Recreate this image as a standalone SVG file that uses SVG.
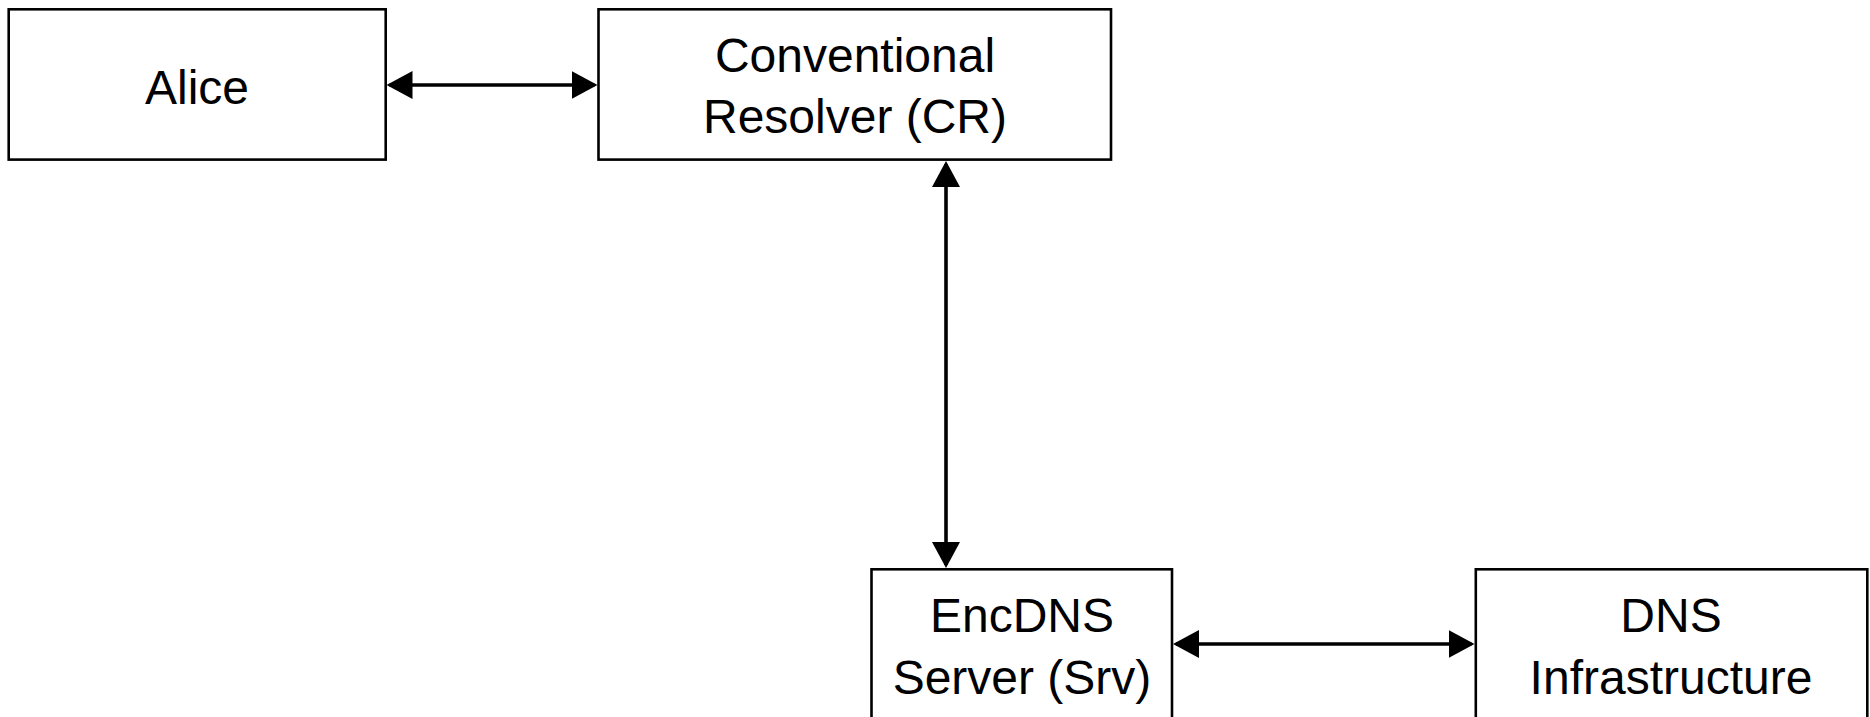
<svg xmlns="http://www.w3.org/2000/svg" width="1870" height="717" viewBox="0 0 1870 717">
  <style>
    .box { fill: #ffffff; stroke: #000000; stroke-width: 2.6; }
    .label { font-family: "Liberation Sans", Arial, sans-serif; font-size: 48px; fill: #000000; text-anchor: middle; }
    .link { stroke: #000000; stroke-width: 3.6; fill: none; marker-start: url(#head); marker-end: url(#head); }
  </style>
  <defs>
    <marker id="head" viewBox="0 0 26 28" refX="23" refY="14" markerWidth="26" markerHeight="28" markerUnits="userSpaceOnUse" orient="auto-start-reverse">
      <path d="M0,0 L26,14 L0,28 Z" fill="#000000"/>
    </marker>
  </defs>
  <rect width="1870" height="717" fill="#ffffff"/>

  <g id="connectors">
    <line class="link" x1="389.5" y1="85" x2="594.5" y2="85"/>
    <line class="link" x1="946" y1="164" x2="946" y2="565"/>
    <line class="link" x1="1176" y1="644" x2="1471.5" y2="644"/>
  </g>

  <g id="alice">
    <rect class="box" x="8.7" y="9.3" width="377" height="150.3"/>
    <text class="label" x="197" y="104">Alice</text>
  </g>

  <g id="conventional-resolver">
    <rect class="box" x="598.5" y="9.3" width="512.5" height="150.3"/>
    <text class="label" x="855" y="72">Conventional</text>
    <text class="label" x="855" y="133">Resolver (CR)</text>
  </g>

  <g id="encdns-server">
    <rect class="box" x="871.5" y="569.3" width="300.5" height="150.3"/>
    <text class="label" x="1022" y="632">EncDNS</text>
    <text class="label" x="1022" y="694">Server (Srv)</text>
  </g>

  <g id="dns-infrastructure">
    <rect class="box" x="1475.8" y="569.3" width="391.5" height="150.3"/>
    <text class="label" x="1671" y="632">DNS</text>
    <text class="label" x="1671" y="694">Infrastructure</text>
  </g>
</svg>
